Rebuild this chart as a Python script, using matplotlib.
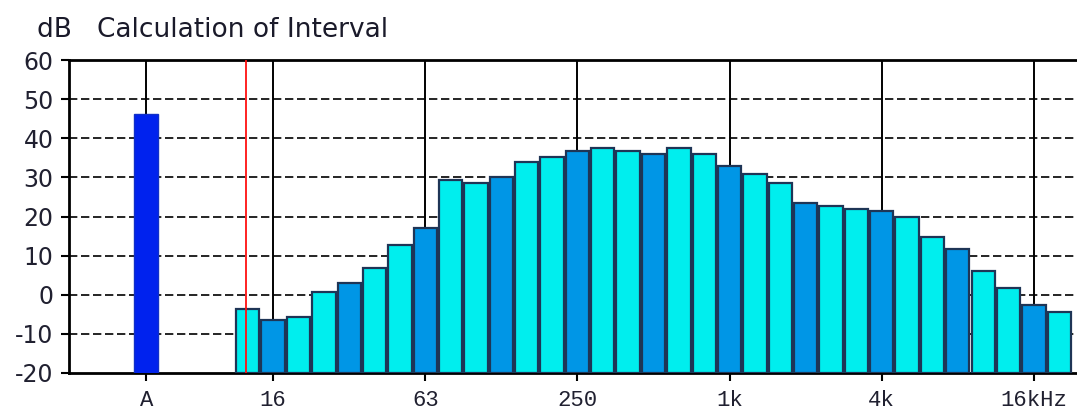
import matplotlib
matplotlib.use("Agg")
import matplotlib.pyplot as plt

# 1/3-octave band centres (Hz) and levels (dB), plus the A-weighted total
bands = ["12.5", "16", "20", "25", "31.5", "40", "50", "63", "80", "100",
         "125", "160", "200", "250", "315", "400", "500", "630", "800", "1k",
         "1.25k", "1.6k", "2k", "2.5k", "3.15k", "4k", "5k", "6.3k", "8k",
         "10k", "12.5k", "16k", "20k"]
levels = [-3.7, -6.4, -5.8, 0.7, 3.0, 6.8, 12.7, 17.1, 29.3, 28.5,
          30.0, 33.9, 35.2, 36.7, 37.4, 36.7, 36.0, 37.4, 36.0, 33.0,
          30.8, 28.5, 23.4, 22.7, 22.0, 21.4, 19.9, 14.8, 11.8,
          6.1, 1.8, -2.7, -4.3]
octave_bands = ["16", "31.5", "63", "125", "250", "500", "1k", "2k", "4k", "8k", "16k"]
total_label = "A"
total_level = 46.3

xtick_labels = [total_label, "16", "63", "250", "1k", "4k", "16kHz"]
xtick_bands = ["16", "63", "250", "1k", "4k", "16k"]
yticks = [-20, -10, 0, 10, 20, 30, 40, 50, 60]

CYAN = "#00EEEE"
BLUE = "#0096E6"
EDGE = "#1E3556"
YMIN, YMAX = -20, 60

fig = plt.figure(figsize=(10.77, 4.16), dpi=100)
ax = fig.add_axes([69 / 1077, 43 / 416, 1 - 69 / 1077, 313 / 416])

xs = list(range(len(bands)))
A_POS = -4
colors = [BLUE if b in octave_bands else CYAN for b in bands]

# bars hang from the bottom of the scale, not from 0 dB
ax.bar(xs, [v - YMIN for v in levels], bottom=YMIN, width=0.92,
       color=colors, edgecolor=EDGE, linewidth=1.6, zorder=3)
ax.bar([A_POS], [total_level - YMIN], bottom=YMIN, width=0.95,
       color="#0022EE", edgecolor="#1030C8", linewidth=1.0, zorder=3)

# grid
for y in yticks[1:-1]:
    ax.axhline(y, color="black", lw=1.2, linestyle=(0, (5, 2.2)), zorder=1)
vx = [A_POS] + [bands.index(b) for b in xtick_bands]
for x in vx:
    ax.axvline(x, color="black", lw=1.4, zorder=1)

# cursor
ax.axvline(-0.07, color="#FF1010", lw=1.3, zorder=4)

ax.set_xlim(-7.05, 32.7)
ax.set_ylim(YMIN, YMAX)
ax.set_yticks(yticks)
ax.set_yticklabels([str(y) for y in yticks], fontsize=17, color="#202030")
ax.set_xticks(vx)
ax.set_xticklabels(xtick_labels, fontsize=16, family="Liberation Mono",
                   color="#202030")
ax.tick_params(axis="both", length=6, width=1.5, color="black")
ax.tick_params(axis="y", pad=5)
ax.tick_params(axis="x", pad=6)

for s in ["left", "top", "bottom"]:
    ax.spines[s].set_linewidth(2)
ax.spines["right"].set_visible(False)

fig.text(37 / 1077, 1 - 30 / 416, "dB   Calculation of Interval", fontsize=19,
         color="#1a1a2a", va="center", ha="left")

fig.savefig("out.png", dpi=100)
